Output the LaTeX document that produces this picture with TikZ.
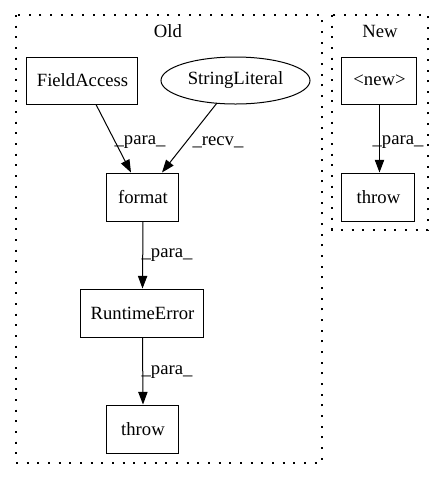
\documentclass[tikz,border=0pt]{standalone}
\usepackage{fontspec}
\setmainfont{Liberation Serif}
\usetikzlibrary{arrows.meta,calc,shapes.geometric}
\begin{document}
\begin{tikzpicture}[x=0.75pt,y=-0.75pt,
  every node/.style={font=\fontsize{14pt}{16pt}\selectfont, inner sep=0pt},
  box/.style={draw, line width=0.75pt, rectangle},
  oval/.style={draw, line width=0.75pt, ellipse},
  cluster/.style={draw, line width=1pt, dash pattern=on 1.5pt off 6.5pt},
  edge/.style={draw, line width=0.75pt, -{Triangle[length=9.5pt,width=7pt]}},
  lbl/.style={font=\fontsize{14pt}{16pt}\selectfont}]
\useasboundingbox (0,0) rectangle (444,480);
% clusters
\draw[cluster] (16,15) rectangle (322,463);
\draw[cluster] (332,15) rectangle (428,230);
\node (oldlbl) at (168,31) {Old};
\node (newlbl) at (380,31) {New};
% nodes of the old graph
\node[box, minimum width=83.25pt, minimum height=35.25pt] (fa) at (82.5,80.5) {FieldAccess};
\node[oval, minimum width=111.75pt, minimum height=35.25pt] (sl) at (235.5,80.5) {StringLiteral};
\node[box, minimum width=54pt, minimum height=36pt] (fmt) at (143,197) {format};
\node[box, minimum width=92.25pt, minimum height=36pt] (rte) at (142.5,313) {RuntimeError};
\node[box, minimum width=54pt, minimum height=36pt] (thr) at (143,429) {throw};
% nodes of the new graph
\node[box, minimum width=56.25pt, minimum height=35.25pt] (nw) at (379.5,80.5) {<new>};
\node[box, minimum width=54.75pt, minimum height=36pt] (thn) at (378.5,197) {throw};
% edges
\draw[edge] ($(fa.south)+(13.5,0)$) -- ($(fmt.north)+(-12,0)$);
\draw[edge] ($(sl.south)+(-18.5,-1.5)$) -- ($(fmt.north)+(19,0)$);
\draw[edge] (fmt.south) -- (rte.north);
\draw[edge] (rte.south) -- (thr.north);
\draw[edge] (nw.south) -- (thn.north -| nw.south);
% edge labels
\node[lbl] (l1) at (140,142) {\_para\_};
\node[lbl] (l2) at (218,142) {\_recv\_};
\node[lbl] (l3) at (167,255) {\_para\_};
\node[lbl] (l4) at (167,372) {\_para\_};
\node[lbl] (l5) at (398,142) {\_para\_};
\end{tikzpicture}
\end{document}
